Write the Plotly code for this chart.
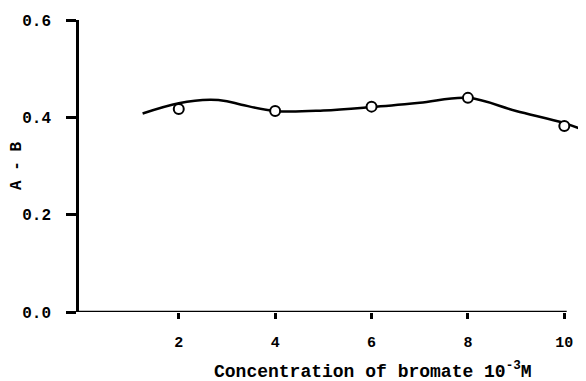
import plotly.graph_objects as go

# measured points
conc = [2, 4, 6, 8, 10]
ab = [0.417, 0.413, 0.422, 0.440, 0.382]

# smooth fitted curve
curve_x = [1.25, 2.0, 2.65, 3.0, 3.3, 4.0, 5.0, 6.0, 7.0, 8.0, 9.0, 10.0, 10.45]
curve_y = [0.408, 0.429, 0.436, 0.433, 0.426, 0.413, 0.414, 0.421, 0.430, 0.440, 0.413, 0.388, 0.372]

x_ticks = [2, 4, 6, 8, 10]
y_ticks = [0.0, 0.2, 0.4, 0.6]
y_tick_text = ["0.0", "0.2", "0.4", "0.6"]

fig = go.Figure()
fig.add_trace(go.Scatter(x=curve_x, y=curve_y, mode="lines",
                         line=dict(color="black", width=2.5, shape="spline", smoothing=1.0),
                         hoverinfo="skip"))
fig.add_trace(go.Scatter(x=conc, y=ab, mode="markers",
                         marker=dict(symbol="circle", size=10, color="white",
                                     line=dict(color="black", width=2))))

# x axis line
fig.add_shape(type="line", xref="x", yref="y", x0=-0.07, x1=10.05, y0=0, y1=0,
              line=dict(color="black", width=2.5))

# page body has an 8px margin, so the figure is shifted by 8px; compensate
fig.update_layout(
    width=578, height=373,
    margin=dict(l=71, r=0, t=12, b=69),
    plot_bgcolor="white", paper_bgcolor="white",
    showlegend=False,
    xaxis=dict(range=[-0.07, 10.45], tickvals=x_ticks, ticktext=[str(v) for v in x_ticks],
               showline=False, showgrid=False, zeroline=False,
               ticks="outside", ticklen=6, tickwidth=2.5, tickcolor="black",
               ticklabelstandoff=10,
               tickfont=dict(family="Liberation Mono", size=15, color="black", weight="bold")),
    yaxis=dict(range=[0, 0.6], tickvals=y_ticks, ticktext=y_tick_text,
               showline=True, linewidth=2.5, linecolor="black",
               showgrid=False, zeroline=False,
               ticks="outside", ticklen=10, tickwidth=2.5, tickcolor="black",
               ticklabelstandoff=12,
               tickfont=dict(family="Liberation Mono", size=16, color="black", weight="bold")),
)

fig.add_annotation(text="Concentration of bromate 10<sup>-3</sup>M", xref="paper", yref="paper",
                   x=(372.5 - 79) / 507, y=-(370 - 312) / 292, showarrow=False,
                   xanchor="center", yanchor="middle",
                   font=dict(family="Liberation Mono", size=18, color="black", weight="bold"))
fig.add_annotation(text="A - B", xref="paper", yref="paper",
                   x=-(79 - 17) / 507, y=(312 - 166) / 292, showarrow=False, textangle=-90,
                   xanchor="center", yanchor="middle",
                   font=dict(family="Liberation Mono", size=16, color="black", weight="bold"))

fig.write_html("out.html")
